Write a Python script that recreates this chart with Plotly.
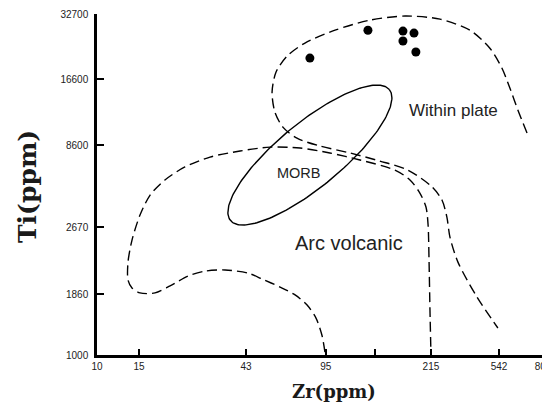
import plotly.graph_objects as go
import numpy as np

# ---- axis tick labels and where they are printed (log10 units) ----
x_tick_pos = [1.000, 1.179, 1.634, 1.974, 2.183, 2.421, 2.711, 2.898]
x_tick_txt = ["10", "15", "43", "95", "", "215", "542", "800"]
y_tick_pos = [3.000, 3.271, 3.569, 3.933, 4.227, 4.516]
y_tick_txt = ["1000", "1860", "2670", "8600", "16600", "32700"]

# ---- samples (log10 Zr, log10 Ti) ----
sample_logzr = [1.906, 2.153, 2.302, 2.349, 2.302, 2.357]
sample_logti = [4.320, 4.444, 4.440, 4.431, 4.396, 4.347]

# ---- Within-plate field boundary (dashed, open) ----
wp_logzr = [2.830, 2.791, 2.757, 2.723, 2.672, 2.587, 2.460, 2.311, 2.162, 2.013,
            1.885, 1.809, 1.762, 1.745, 1.757, 1.791, 1.851, 1.949, 2.077, 2.204,
            2.323, 2.426, 2.468, 2.489, 2.502, 2.536, 2.617, 2.706]
wp_logti = [3.987, 4.089, 4.187, 4.276, 4.364, 4.444, 4.493, 4.507, 4.489, 4.444,
            4.387, 4.329, 4.258, 4.169, 4.080, 4.013, 3.964, 3.929, 3.898, 3.862,
            3.822, 3.747, 3.689, 3.613, 3.524, 3.413, 3.258, 3.120]

# ---- Arc-volcanic field boundary (dashed, open) ----
av_logzr = [1.970, 1.957, 1.932, 1.894, 1.843, 1.779, 1.702, 1.643, 1.545, 1.460,
            1.387, 1.311, 1.247, 1.183, 1.149, 1.132, 1.132, 1.149, 1.183, 1.226,
            1.289, 1.374, 1.481, 1.609, 1.736, 1.864, 1.991, 2.119, 2.268, 2.332,
            2.374, 2.400, 2.409, 2.413, 2.417, 2.421]
av_logti = [3.013, 3.089, 3.164, 3.222, 3.267, 3.302, 3.338, 3.364, 3.378, 3.373,
            3.351, 3.307, 3.276, 3.276, 3.298, 3.333, 3.413, 3.511, 3.622, 3.711,
            3.778, 3.836, 3.880, 3.907, 3.924, 3.920, 3.898, 3.867, 3.822, 3.778,
            3.720, 3.658, 3.578, 3.422, 3.200, 3.013]

# ---- MORB ellipse: centre and conjugate semi-axis vectors (log10 units) ----
morb_center = (1.906, 3.889)
morb_u = (0.338, 0.291)
morb_v = (-0.087, 0.110)

t = np.linspace(0, 2 * np.pi, 200)
morb_x = morb_center[0] + np.cos(t) * morb_u[0] + np.sin(t) * morb_v[0]
morb_y = morb_center[1] + np.cos(t) * morb_u[1] + np.sin(t) * morb_v[1]

dash = "10px,5px"
fig = go.Figure()
fig.add_trace(go.Scatter(x=wp_logzr, y=wp_logti, mode="lines",
                         line=dict(color="black", width=1.4, dash=dash, shape="spline", smoothing=0.8),
                         hoverinfo="skip"))
fig.add_trace(go.Scatter(x=av_logzr, y=av_logti, mode="lines",
                         line=dict(color="black", width=1.4, dash=dash, shape="spline", smoothing=0.8),
                         hoverinfo="skip"))
fig.add_trace(go.Scatter(x=morb_x, y=morb_y, mode="lines",
                         line=dict(color="black", width=1.4), hoverinfo="skip"))
fig.add_trace(go.Scatter(x=sample_logzr, y=sample_logti, mode="markers",
                         marker=dict(color="black", size=9, symbol="circle")))

lab_font = dict(family="Liberation Sans, Arial, sans-serif", color="#222222")
fig.add_annotation(x=2.519, y=4.089, xref="x", yref="y", text="Within plate",
                   showarrow=False, font=dict(size=17, **lab_font))
fig.add_annotation(x=2.072, y=3.498, xref="x", yref="y", text="Arc volcanic",
                   showarrow=False, font=dict(size=20, **lab_font))
fig.add_annotation(x=1.860, y=3.809, xref="x", yref="y", text="MORB",
                   showarrow=False, font=dict(size=14.5, **lab_font))

title_font = dict(family="DejaVu Serif, serif", color="#1a1a1a")
fig.add_annotation(x=-0.1547, y=0.4927, xref="paper", yref="paper", text="Ti(ppm)",
                   textangle=-90, showarrow=False, xanchor="center", yanchor="middle",
                   font=dict(size=25, weight="bold", **title_font))
fig.add_annotation(x=0.532, y=-0.1085, xref="paper", yref="paper", text="Zr(ppm)",
                   showarrow=False, xanchor="center", yanchor="middle",
                   font=dict(size=18, weight="bold", **title_font))

tick_font = dict(family="Liberation Sans, Arial, sans-serif", size=10, color="#222222")
fig.update_xaxes(range=[1.0, 2.898], tickmode="array", tickvals=x_tick_pos, ticktext=x_tick_txt,
                 showgrid=False, zeroline=False, showline=True, linecolor="black", linewidth=2.5,
                 ticks="inside", ticklen=6, tickwidth=2, tickcolor="black", tickfont=tick_font,
                 automargin=False)
fig.update_yaxes(range=[3.0, 4.516], tickmode="array", tickvals=y_tick_pos, ticktext=y_tick_txt,
                 showgrid=False, zeroline=False, showline=True, linecolor="black", linewidth=2.5,
                 ticks="inside", ticklen=7, tickwidth=2, tickcolor="black", tickfont=tick_font,
                 automargin=False, ticklabelstandoff=4)
fig.update_layout(width=550, height=404, showlegend=False,
                  margin=dict(l=89, r=15, t=6, b=57),
                  paper_bgcolor="white", plot_bgcolor="white")
fig.write_html("out.html")
